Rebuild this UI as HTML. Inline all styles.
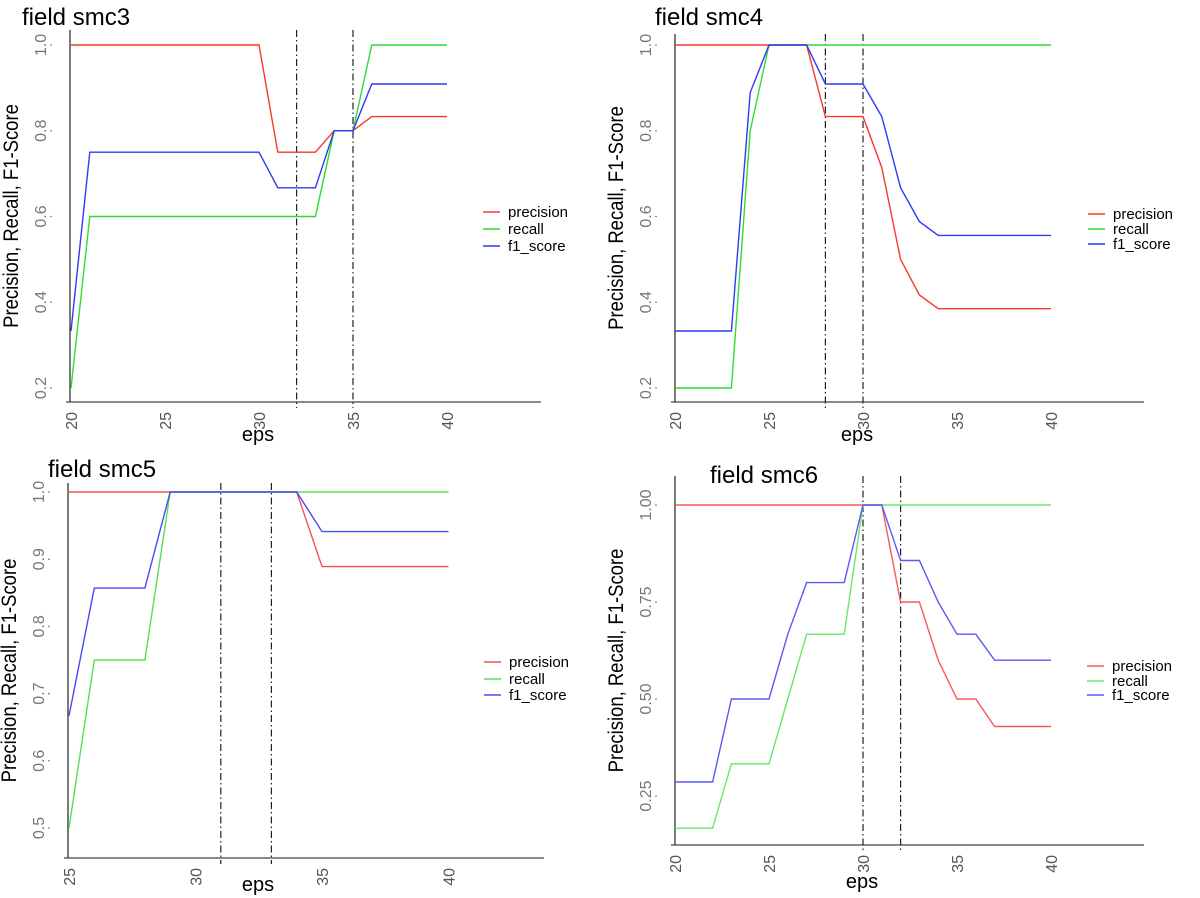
<!DOCTYPE html>
<html><head><meta charset="utf-8">
<style>
html,body{margin:0;padding:0;background:#fff;}
svg{display:block;font-family:"Liberation Sans",sans-serif;}
</style></head>
<body>
<svg id="chart" width="1200" height="898" viewBox="0 0 1200 898"></svg>
<script>
// ---- data ----
const eps3 = [20,21,22,23,24,25,26,27,28,29,30,31,32,33,34,35,36,37,38,39,40];
const prec3 = [1,1,1,1,1,1,1,1,1,1,1,0.75,0.75,0.75,0.8,0.8,0.833,0.833,0.833,0.833,0.833];
const rec3  = [0.2,0.6,0.6,0.6,0.6,0.6,0.6,0.6,0.6,0.6,0.6,0.6,0.6,0.6,0.8,0.8,1,1,1,1,1];
const f13   = [0.333,0.75,0.75,0.75,0.75,0.75,0.75,0.75,0.75,0.75,0.75,0.667,0.667,0.667,0.8,0.8,0.909,0.909,0.909,0.909,0.909];
const vl3 = [32,35];

const eps4 = [20,21,22,23,24,25,26,27,28,29,30,31,32,33,34,35,36,37,38,39,40];
const prec4 = [1,1,1,1,1,1,1,1,0.833,0.833,0.833,0.714,0.5,0.417,0.385,0.385,0.385,0.385,0.385,0.385,0.385];
const rec4  = [0.2,0.2,0.2,0.2,0.8,1,1,1,1,1,1,1,1,1,1,1,1,1,1,1,1];
const f14   = [0.333,0.333,0.333,0.333,0.889,1,1,1,0.909,0.909,0.909,0.833,0.667,0.588,0.556,0.556,0.556,0.556,0.556,0.556,0.556];
const vl4 = [28,30];

const eps5 = [25,26,27,28,29,30,31,32,33,34,35,36,37,38,39,40];
const prec5 = [1,1,1,1,1,1,1,1,1,1,0.889,0.889,0.889,0.889,0.889,0.889];
const rec5  = [0.5,0.75,0.75,0.75,1,1,1,1,1,1,1,1,1,1,1,1];
const f15   = [0.667,0.857,0.857,0.857,1,1,1,1,1,1,0.941,0.941,0.941,0.941,0.941,0.941];
const vl5 = [31,33];

const eps6 = [20,21,22,23,24,25,26,27,28,29,30,31,32,33,34,35,36,37,38,39,40];
const prec6 = [1,1,1,1,1,1,1,1,1,1,1,1,0.75,0.75,0.6,0.5,0.5,0.429,0.429,0.429,0.429];
const rec6  = [0.167,0.167,0.167,0.333,0.333,0.333,0.5,0.667,0.667,0.667,1,1,1,1,1,1,1,1,1,1,1];
const f16   = [0.286,0.286,0.286,0.5,0.5,0.5,0.667,0.8,0.8,0.8,1,1,0.857,0.857,0.75,0.667,0.667,0.6,0.6,0.6,0.6];
const vl6 = [30,32];

const xt3 = [20,25,30,35,40], yt3 = ["0.2","0.4","0.6","0.8","1.0"];
const xt5 = [25,30,35,40], yt5 = ["0.5","0.6","0.7","0.8","0.9","1.0"];
const yt6 = ["0.25","0.50","0.75","1.00"];
const seriesNames = ["precision","recall","f1_score"];

// ---- layout ----
const NS="http://www.w3.org/2000/svg";
const svg=document.getElementById('chart');
function mk(tag,attrs,parent,text){const e=document.createElementNS(NS,tag);for(const k in attrs)e.setAttribute(k,attrs[k]);if(text!==undefined)e.textContent=text;(parent||svg).appendChild(e);return e;}

const panels=[
 {id:'smc3',title:'field smc3',tx:22,ty:25,eps:eps3,s:[prec3,rec3,f13],vl:vl3,xt:xt3,yt:yt3,
  x0:20,px0:71,pu:18.8,v0:0.2,py0:388,pv:428.75,left:70,right:541,top:30,bottom:402,
  col:['#f53a2a','#2fdc2f','#2f3af5'],lx:483,ly:[212,229,246],ex:258,ey:441},
 {id:'smc4',title:'field smc4',tx:655,ty:25,eps:eps4,s:[prec4,rec4,f14],vl:vl4,xt:xt3,yt:yt3,
  x0:20,px0:675,pu:18.8,v0:0.2,py0:388,pv:428.75,left:675,right:1144,top:34,bottom:402,
  col:['#f53a2a','#2fdc2f','#2f3af5'],lx:1088,ly:[214,229,244],ex:857,ey:441},
 {id:'smc5',title:'field smc5',tx:48,ty:477,eps:eps5,s:[prec5,rec5,f15],vl:vl5,xt:xt5,yt:yt5,
  x0:25,px0:69,pu:25.3,v0:0.5,py0:828,pv:672,left:68,right:544,top:483,bottom:858,
  col:['#f55050','#55e055','#4a4af5'],lx:484,ly:[662,679,695],ex:258,ey:891},
 {id:'smc6',title:'field smc6',tx:710,ty:483,eps:eps6,s:[prec6,rec6,f16],vl:vl6,xt:xt3,yt:yt6,
  x0:20,px0:675,pu:18.8,v0:0.25,py0:796,pv:388,left:675,right:1144,top:476,bottom:845,
  col:['#f55a5a','#66e866','#5a5af5'],lx:1087,ly:[666,681,695],ex:862,ey:888}
];

panels.forEach(p=>{
  const g=mk('g',{});
  
  
  const X=v=>p.px0+(v-p.x0)*p.pu;
  const Y=v=>p.py0-(v-p.v0)*p.pv;
  const t=mk('text',{x:p.tx,y:p.ty,'font-size':24,fill:'#000'},g,p.title);
  
  
  const ya=mk('line',{x1:p.left,y1:p.top,x2:p.left,y2:p.bottom,stroke:'#333','stroke-width':1.3},g);
  
  
  const xa=mk('line',{x1:p.left-4,y1:p.bottom,x2:p.right,y2:p.bottom,stroke:'#444','stroke-width':1.3},g);
  
  
  p.yt.forEach(lbl=>{
    const yy=Y(parseFloat(lbl));
    const tk=mk('text',{x:0,y:0,'font-size':16,fill:'#777','text-anchor':'middle',transform:`translate(${p.left-24},${yy}) rotate(-90)`},g,lbl);
    
    
    mk('circle',{cx:p.left-19,cy:yy,r:0.8,fill:'#666'},g);
  });
  p.xt.forEach(v=>{
    const xx=X(v);
    const tk=mk('text',{x:0,y:0,'font-size':16,fill:'#555','text-anchor':'end',transform:`translate(${xx+6},${p.bottom+10}) rotate(-90)`},g,String(v));
    
    
  });
  const ex=mk('text',{x:p.ex,y:p.ey,'font-size':20,fill:'#000','text-anchor':'middle'},g,'eps');
  
  
  const yTitleY=(p.top+p.bottom)/2;
  const yt=mk('text',{x:0,y:0,'font-size':21,fill:'#000','text-anchor':'middle',transform:`translate(${p.left-52},${yTitleY}) rotate(-90) scale(0.88,1)`},g,'Precision, Recall, F1-Score');
  
  
  p.vl.forEach(v=>{
    const l=mk('line',{x1:X(v),y1:p.top,x2:X(v),y2:p.bottom+6,stroke:'#222','stroke-width':1.2,'stroke-dasharray':'7,3,1.5,3'},g);
    
    
  });
  p.s.forEach((arr,i)=>{
    const pts=arr.map((v,j)=>X(p.eps[j]).toFixed(1)+','+Y(v).toFixed(1)).join(' ');
    const pl=mk('polyline',{points:pts,fill:'none',stroke:p.col[i],'stroke-width':1.4},g);
    
    
  });
  seriesNames.forEach((n,i)=>{
    const lg=mk('g',{},g);
    
    
    mk('line',{x1:p.lx,y1:p.ly[i],x2:p.lx+17,y2:p.ly[i],stroke:p.col[i],'stroke-width':1.5},lg);
    mk('text',{x:p.lx+25,y:p.ly[i]+5,'font-size':15,fill:'#000'},lg,n);
  });
});
</script>
</body></html>
